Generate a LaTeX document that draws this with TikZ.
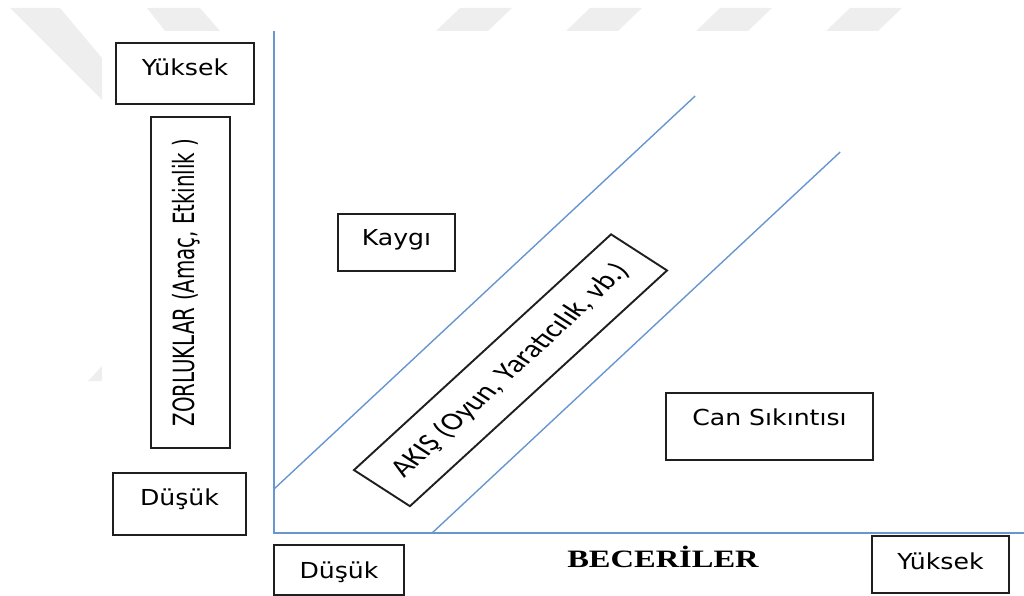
\documentclass[tikz,border=0pt]{standalone}
\usepackage{fontspec}
\setmainfont{DejaVu Sans}[FakeStretch=0.88]
\newfontfamily\calfont{Carlito}
\newfontfamily\serfont{Liberation Serif}
\definecolor{axisblue}{RGB}{104,150,208}
\definecolor{markgray}{RGB}{238,238,238}
\newcommand{\boxfont}{\fontsize{22}{26}\selectfont}
\tikzset{
    lbox/.style={draw=black!88, line width=1.9pt, inner sep=0pt, font=\boxfont},
    axisline/.style={draw=axisblue, line width=2.2pt},
    zoneline/.style={draw=axisblue, line width=1.4pt},
}

\begin{document}
\begin{tikzpicture}[x=0.76923pt, y=-1pt, xscale=1.3, transform shape]
    \useasboundingbox (0,0) rectangle (1024,596);
    \fill[markgray] (10,8) -- (60,8) -- (102,58) -- (102,100) -- cycle;
    \fill[markgray] (147,8) -- (200,8) -- (220,31) -- (165,31) -- cycle;
    \fill[markgray] (88,381) -- (102,366) -- (102,381) -- cycle;
    \foreach \s in {460,590,720,850}
        \fill[markgray] (\s,8) -- (\s+52,8) -- (\s+28,31) -- (\s-24,31) -- cycle;
    \coordinate (o) at (274,533);
    \coordinate (ytop) at (274,31);
    \coordinate (xend) at (1024,533);
    \coordinate (hi1) at (274,489);
    \coordinate (hi2) at (695,96);
    \coordinate (lo1) at (432,533);
    \coordinate (lo2) at (840,152);
    \draw[zoneline] (hi1) -- (hi2);
    \draw[zoneline] (lo1) -- (lo2);
    \draw[axisline] (ytop) -- (o) -- (xend);
    \node[lbox, minimum width=106.2pt, text height=33pt, text depth=28pt] (highL) at (185,73.5) {Yüksek};
    \node[lbox, minimum width=102.3pt, text height=32pt, text depth=30pt] (lowL) at (179.5,504) {Düşük};
    \node[lbox, rotate=90, minimum width=331pt, text height=33.8pt, text depth=26.9pt,
        font=\fontsize{22.5}{26}\selectfont] (challenge) at (190.5,282.5) {ZORLUKLAR (Amaç, Etkinlik )};
    \node[lbox, minimum width=90pt, text height=31pt, text depth=26pt] (anxiety) at (396.5,242.5) {Kaygı};
    \node[lbox, rotate=50, minimum width=307.7pt, minimum height=56.2pt,
        font=\calfont\fontsize{25}{30}\selectfont] (flow) at (510.5,370.25) {AKIŞ (Oyun, Yaratıcılık, vb.)};
    \node[lbox, minimum width=159.2pt, text height=32pt, text depth=35pt] (boredom) at (769.5,426.5) {Can Sıkıntısı};
    \node[lbox, minimum width=100pt, text height=33pt, text depth=17pt] (lowB) at (339,570) {Düşük};
    \node[lbox, minimum width=105.4pt, text height=33pt, text depth=24pt] (highB) at (940.5,564.5) {Yüksek};
    \node[anchor=base, inner sep=0pt, font=\serfont\bfseries\fontsize{25}{30}\selectfont] (skills) at (663,567) {BECERİLER};
\end{tikzpicture}
\end{document}
